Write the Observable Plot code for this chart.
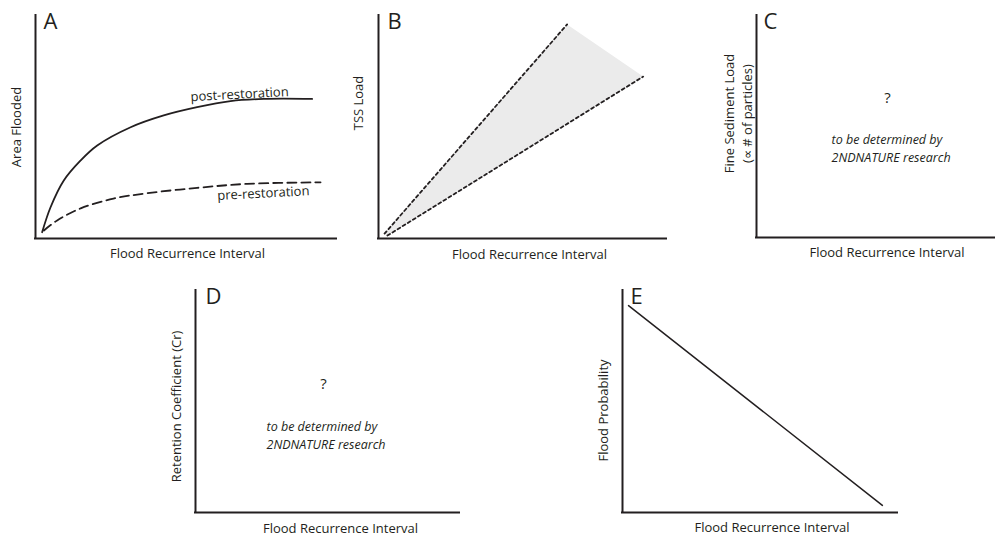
<!DOCTYPE html>
<html><head><meta charset="utf-8">
<script src="https://cdn.jsdelivr.net/npm/d3@7"></script>
<script src="https://cdn.jsdelivr.net/npm/@observablehq/plot@0.6"></script>
<style>
body{margin:0;background:#fff;}
#fig{position:relative;width:995px;height:535px;font-family:"Open Sans",sans-serif;}
#fig svg{position:absolute;overflow:visible;}
</style></head><body><div id="fig"></div>
<script>
// ---- data (normalised 0–100 conceptual units) ----
const xLabel = "Flood Recurrence Interval";
const panelLetters = ["A", "B", "C", "D", "E"];
const yLabels = [["Area Flooded"], ["TSS Load"], ["Fine Sediment Load", "(\u221D # of particles)"], ["Retention Coefficient (Cr)"], ["Flood Probability"]];

const postX = [2.2, 5.0, 9.4, 15.0, 20.5, 31.6, 42.6, 53.7, 64.8, 75.8, 91.9];
const postY = [2.8, 14.0, 26.0, 35.0, 41.7, 49.9, 55.2, 58.9, 61.6, 62.6, 62.6];
const preX = [2.8, 7.2, 15.0, 25.9, 37.1, 53.7, 70.3, 94.7];
const preY = [3.6, 8.1, 13.5, 17.9, 20.3, 22.7, 24.5, 25.2];
const curveLabels = ["post-restoration", "pre-restoration"];
const curveLabelX = [67.8, 75.7];
const curveLabelY = [64.6, 20.2];

const tssUpperX = [2.1, 65.5], tssUpperY = [2.2, 96.0];
const tssLowerX = [3.1, 91.9], tssLowerY = [1.3, 72.6];

const unknownMark = "?";
const tbdLines = ["to be determined by", "2NDNATURE research"];
const tbdC = {qx: 54.8, qy: 62.6, tx: 31.4, ty: [44.1, 36.0]};
const tbdD = {qx: 48.5, qy: 57.7, tx: 26.9, ty: [38.3, 30.2]};

const probX = [2.2, 94.5], probY = [93.2, 3.2];

// ---- layout ----
const ink = "#231f20";
const layout = [
  {x0: 35, x1: 336, y0: 15, y1: 238, xdx: 1.5, xdy: 15, ylab: [{dx: -19, dy: 0}], ldx: 8},
  {x0: 378, x1: 666, y0: 15, y1: 238, xdx: 7, xdy: 16, ylab: [{dx: -20, dy: -24}], ldx: 9},
  {x0: 756, x1: 995, y0: 15, y1: 237, xdx: 11, xdy: 15, ylab: [{dx: -27, dy: -13}, {dx: -9, dy: -13}], ldx: 7},
  {x0: 195, x1: 459, y0: 290, y1: 512, xdx: 13, xdy: 16, ylab: [{dx: -19, dy: 5}], ldx: 10},
  {x0: 622, x1: 897, y0: 290, y1: 512, xdx: 12, xdy: 15, ylab: [{dx: -19, dy: 9}], ldx: 8}
];
const M = {l: 45, r: 5, t: 12, b: 28};

function pts(xs, ys) { return xs.map((x, i) => ({x, y: ys[i]})); }

function panelMarks(i) {
  const L = layout[i];
  const marks = [];
  if (i === 0) {
    marks.push(Plot.line(pts(postX, postY), {x: "x", y: "y", curve: "catmull-rom", stroke: ink, strokeWidth: 1.8}));
    marks.push(Plot.line(pts(preX, preY), {x: "x", y: "y", curve: "catmull-rom", stroke: ink, strokeWidth: 1.8, strokeDasharray: "9,5"}));
    marks.push(Plot.text(curveLabels.map((t, j) => ({t, x: curveLabelX[j], y: curveLabelY[j]})),
      {x: "x", y: "y", text: "t", rotate: -3, fontSize: 13, fill: ink}));
  }
  if (i === 1) {
    const poly = [...pts(tssUpperX, tssUpperY), ...pts(tssLowerX, tssLowerY).reverse()];
    marks.push(Plot.line(poly, {x: "x", y: "y", fill: "#ebebeb", stroke: "none"}));
    marks.push(Plot.line(pts(tssUpperX, tssUpperY), {x: "x", y: "y", stroke: ink, strokeWidth: 1.8, strokeDasharray: "3,3"}));
    marks.push(Plot.line(pts(tssLowerX, tssLowerY), {x: "x", y: "y", stroke: ink, strokeWidth: 1.8, strokeDasharray: "3,3"}));
  }
  if (i === 2 || i === 3) {
    const T = i === 2 ? tbdC : tbdD;
    marks.push(Plot.text([unknownMark], {x: T.qx, y: T.qy, text: d => d, fontSize: 15, fill: ink}));
    marks.push(Plot.text(tbdLines.map((t, j) => ({t, y: T.ty[j]})),
      {x: T.tx, y: "y", text: "t", textAnchor: "start", fontStyle: "italic", fontSize: 12.5, fill: ink}));
  }
  if (i === 4) {
    marks.push(Plot.line(pts(probX, probY), {x: "x", y: "y", stroke: ink, strokeWidth: 1.5}));
  }
  // axes
  marks.push(Plot.ruleX([0], {stroke: ink, strokeWidth: 2, strokeLinecap: "square"}));
  marks.push(Plot.ruleY([0], {stroke: ink, strokeWidth: 2, strokeLinecap: "square"}));
  // panel letter
  marks.push(Plot.text([panelLetters[i]], {frameAnchor: "top-left", text: d => d, dx: L.ldx, dy: 13,
    lineAnchor: "bottom", textAnchor: "start", fontSize: 22, fill: ink}));
  // x label
  marks.push(Plot.text([xLabel], {frameAnchor: "bottom", text: d => d, dx: L.xdx, dy: L.xdy,
    lineAnchor: "middle", textAnchor: "middle", fontSize: 13, fill: ink}));
  // y label lines
  yLabels[i].forEach((t, j) => {
    marks.push(Plot.text([t], {frameAnchor: "left", text: d => d, dx: L.ylab[j].dx, dy: L.ylab[j].dy,
      rotate: -90, lineAnchor: "middle", textAnchor: "middle", fontSize: 13, fill: ink}));
  });
  return marks;
}

const fig = document.getElementById("fig");
layout.forEach((L, i) => {
  const mr = i === 2 ? 0 : M.r;
  const chart = Plot.plot({
    width: L.x1 - L.x0 + M.l + mr,
    height: L.y1 - L.y0 + M.t + M.b,
    marginLeft: M.l, marginRight: mr, marginTop: M.t, marginBottom: M.b,
    x: {domain: [0, 100], axis: null},
    y: {domain: [0, 100], axis: null},
    style: {fontFamily: "'Open Sans', sans-serif", background: "transparent", overflow: "visible"},
    marks: panelMarks(i)
  });
  chart.style.left = (L.x0 - M.l) + "px";
  chart.style.top = (L.y0 - M.t) + "px";
  fig.appendChild(chart);
});
</script>
</body></html>
